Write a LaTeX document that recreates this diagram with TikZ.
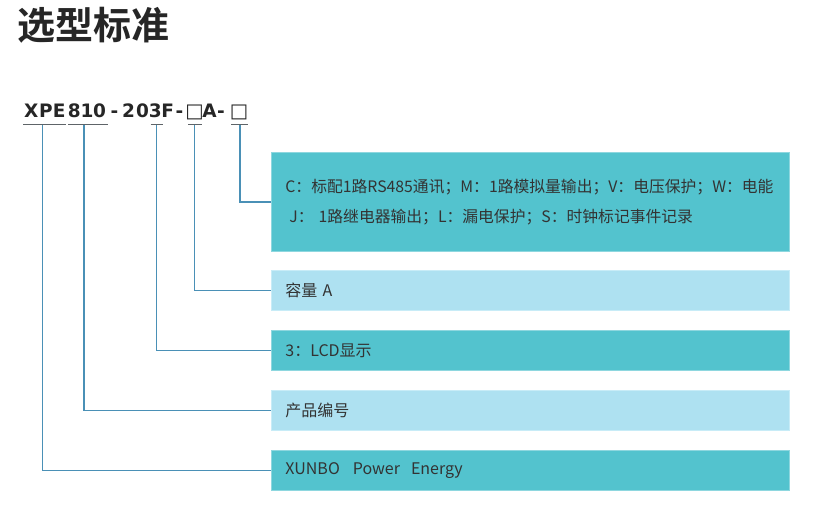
\documentclass[tikz,border=0pt]{standalone}
\usepackage{fontspec}
\setmainfont{Noto Sans CJK SC}
\newfontfamily\cjkbold{Noto Sans CJK SC Bold}
\newfontfamily\codefont{DejaVu Sans Bold}
\newfontfamily\boxglyph{DejaVu Sans}
\definecolor{tealfill}{HTML}{53C3CE}
\definecolor{lightfill}{HTML}{AEE1F1}
\definecolor{tealedge}{HTML}{8ED7DF}
\definecolor{lightedge}{HTML}{C8ECF7}
\definecolor{connblue}{HTML}{4A90B6}
\definecolor{txt}{HTML}{333333}
\definecolor{codetxt}{HTML}{262626}
\definecolor{uline}{HTML}{5E6468}
\tikzset{
  box/.style={anchor=north west, minimum width=518pt, minimum height=40pt,
    inner xsep=14pt, inner ysep=0pt, text width=490pt, align=left,
    font=\fontsize{16}{30}\selectfont, text=txt, line width=0.8pt},
  tealbox/.style={box, fill=tealfill, draw=tealedge},
  lightbox/.style={box, fill=lightfill, draw=lightedge},
  code/.style={anchor=base, inner sep=0pt, font=\fontsize{18.5}{18.5}\codefont, text=codetxt},
  sq/.style={anchor=base, inner sep=0pt, font=\fontsize{19.5}{19.5}\boxglyph, text=codetxt},
  conn/.style={draw=connblue, line width=1.4pt},
  ul/.style={draw=uline, line width=1.2pt}
}
\begin{document}
\begin{tikzpicture}[x=1pt,y=1pt]
\useasboundingbox (0,0) rectangle (833,-526);
% title
\node[anchor=base west, inner sep=0pt, font=\fontsize{38}{38}\cjkbold, text=codetxt] (title) at (17,-39.5) {选型标准};
% model code, one node per character
\foreach \cx/\ch/\nm in {31.3/X/k1, 46/P/k2, 59.3/E/k3, 74.3/8/k4, 87/1/k5, 99.5/0/k6,
  114.5/-/k7, 128.5/2/k8, 142.5/0/k9, 155.3/3/k10, 167.7/F/k11, 179.5/-/k12,
  209.5/A/k14, 221/-/k15}
  \node[code] (\nm) at (\cx,-118) {\ch};
\node[sq] (k13) at (194.5,-118) {□};
\node[sq] (k16) at (239,-118) {□};
% underlines
\coordinate (u1a) at (23,-124.3); \coordinate (u1b) at (66,-124.3);
\coordinate (u2a) at (68,-124.3); \coordinate (u2b) at (107.5,-124.3);
\coordinate (u3a) at (150.5,-124.3); \coordinate (u3b) at (162.5,-124.3);
\coordinate (u4a) at (188,-124.3); \coordinate (u4b) at (201.5,-124.3);
\coordinate (u5a) at (231,-124.3); \coordinate (u5b) at (247.5,-124.3);
\draw[ul] (u1a) -- (u1b);
\draw[ul] (u2a) -- (u2b);
\draw[ul] (u3a) -- (u3b);
\draw[ul] (u4a) -- (u4b);
\draw[ul] (u5a) -- (u5b);
% boxes
\node[tealbox, minimum height=99pt, font=\fontsize{15.8}{30}\selectfont] (cbox) at (271,-152)
  {C：标配1路RS485通讯；M：1路模拟量输出；V：电压保护；W：电能\\\hspace*{4pt}J：\hspace{5pt}1路继电器输出；L：漏电保护；S：时钟标记事件记录};
\node[lightbox] (capbox) at (271,-270) {容量 A};
\node[tealbox] (lcdbox) at (271,-330) {3：LCD显示};
\node[lightbox] (prodbox) at (271,-390) {产品编号};
\node[tealbox] (xunbox) at (271,-450) {XUNBO\hspace{13pt}Power\hspace{11pt}Energy};
% connectors
\coordinate (c1) at (42.5,-125);
\coordinate (c2) at (84,-125);
\coordinate (c3) at (156.5,-125);
\coordinate (c4) at (194.5,-125);
\coordinate (c5) at (240,-125);
\draw[conn] (c1) |- (xunbox.west);
\draw[conn] (c2) |- (prodbox.west);
\draw[conn] (c3) |- (lcdbox.west);
\draw[conn] (c4) |- (capbox.west);
\draw[conn] (c5) |- (cbox.west);
\end{tikzpicture}
\end{document}
